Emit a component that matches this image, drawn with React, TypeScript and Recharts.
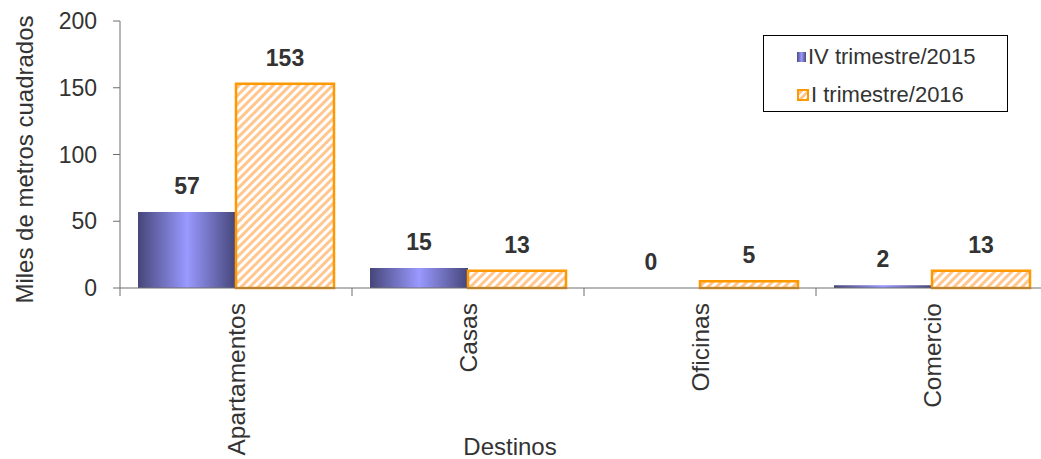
import { BarChart, Bar, XAxis, YAxis, Legend, LabelList } from 'recharts'

const categories = ['Apartamentos', 'Casas', 'Oficinas', 'Comercio']
const q4of2015 = [57, 15, 0, 2]
const q1of2016 = [153, 13, 5, 13]
const yTicks = [0, 50, 100, 150, 200]
const seriesNames = ['IV trimestre/2015', 'I trimestre/2016']

const CHART_W = 1041
const CHART_H = 459
const Y_AXIS_W = 120
const MARGIN = { top: 21, right: -7, bottom: 0, left: 0 }
const BAND = (CHART_W - Y_AXIS_W - MARGIN.left - MARGIN.right) / categories.length

const FONT = '"Liberation Sans", Arial, sans-serif'
const TEXT = '#333333'
const AXIS = '#6e6e6e'

const data = categories.map((name, i) => ({
  name,
  q4: q4of2015[i],
  q1: q1of2016[i],
}))

function CategoryTick(props: any) {
  const { x, y, payload, index } = props
  const last = index === categories.length - 1
  return (
    <g>
      <line x1={x - BAND / 2} x2={x - BAND / 2} y1={y} y2={y + 8} stroke={AXIS} />
      {last && <line x1={x + BAND / 2} x2={x + BAND / 2} y1={y} y2={y + 8} stroke={AXIS} />}
      <text
        x={x}
        y={y + 15}
        dy="0.35em"
        transform={`rotate(-90, ${x}, ${y + 15})`}
        textAnchor="end"
        fill={TEXT}
        fontSize={24.5}
        fontFamily={FONT}
      >
        {payload.value}
      </text>
    </g>
  )
}

function ValueLabel(props: any) {
  const { x, y, width, height, value } = props
  // zero-height bars still get their label on the baseline
  const top = Math.min(y, y + height)
  return (
    <text
      x={x + width / 2}
      y={top - 18}
      textAnchor="middle"
      fill={TEXT}
      fontSize={23}
      fontWeight="bold"
      fontFamily={FONT}
    >
      {value}
    </text>
  )
}

function LegendBox() {
  const row = { display: 'flex', alignItems: 'center', height: 38, paddingLeft: 33 }
  return (
    <div
      style={{
        border: '1px solid #000',
        background: '#fff',
        width: 243,
        height: 75,
        fontFamily: FONT,
        fontSize: 22,
        color: TEXT,
        boxSizing: 'content-box',
      }}
    >
      <div style={{ ...row, paddingTop: 2 }}>
        <span
          style={{
            display: 'inline-block',
            width: 9,
            height: 10,
            background: 'linear-gradient(90deg, #4b4b7e, #9999ff 50%, #4b4b7e)',
            marginRight: 2,
          }}
        />
        <span>{seriesNames[0]}</span>
      </div>
      <div style={row}>
        <span
          style={{
            display: 'inline-block',
            width: 8,
            height: 8,
            border: '2px solid #ff9900',
            background: 'repeating-linear-gradient(135deg, #ffc68f 0 3px, #fff 3px 5px)',
            marginRight: 2,
          }}
        />
        <span>{seriesNames[1]}</span>
      </div>
    </div>
  )
}

export default function App() {
  return (
    <div style={{ position: 'absolute', left: 0, top: 0, background: '#fff' }}>
      <BarChart
        width={CHART_W}
        height={CHART_H}
        data={data}
        margin={MARGIN}
        barCategoryGap={18}
        barGap={0}
      >
        <defs>
          <linearGradient id="purpleGrad" x1="0" y1="0" x2="1" y2="0">
            <stop offset="0%" stopColor="#46467a" />
            <stop offset="50%" stopColor="#9999ff" />
            <stop offset="100%" stopColor="#46467a" />
          </linearGradient>
          <pattern
            id="orangeHatch"
            patternUnits="userSpaceOnUse"
            width={6}
            height={6}
            patternTransform="rotate(45)"
          >
            <rect width={6} height={6} fill="#ffffff" />
            <rect width={3} height={6} fill="#ffc68f" />
          </pattern>
        </defs>
        <XAxis
          dataKey="name"
          height={171}
          interval={0}
          tickLine={false}
          tickSize={0}
          tickMargin={0}
          axisLine={{ stroke: AXIS }}
          tick={<CategoryTick />}
          label={{
            content: (p: any) => {
              const vb = p.viewBox
              return (
                <text
                  x={vb.x + vb.width / 2 - 74}
                  y={455}
                  textAnchor="middle"
                  fill={TEXT}
                  fontSize={24}
                  fontFamily={FONT}
                >
                  Destinos
                </text>
              )
            },
          }}
        />
        <YAxis
          width={Y_AXIS_W}
          domain={[0, 200]}
          ticks={yTicks}
          interval={0}
          tickSize={7}
          tickMargin={16}
          axisLine={{ stroke: AXIS }}
          tickLine={{ stroke: AXIS }}
          tick={{ fill: TEXT, fontSize: 23, fontFamily: FONT }}
          label={{
            content: (p: any) => {
              const vb = p.viewBox
              const cx = vb.x + 25
              const cy = vb.y + vb.height / 2 + 5
              return (
                <text
                  x={cx}
                  y={cy}
                  dy="0.35em"
                  transform={`rotate(-90, ${cx}, ${cy})`}
                  textAnchor="middle"
                  fill={TEXT}
                  fontSize={24}
                  fontFamily={FONT}
                >
                  Miles de metros cuadrados
                </text>
              )
            },
          }}
        />
        <Legend
          layout="horizontal"
          verticalAlign="middle"
          align="center"
          content={() => <LegendBox />}
          wrapperStyle={{ left: 763, top: 35, width: 245, height: 77 }}
        />
        <Bar
          dataKey="q4"
          name={seriesNames[0]}
          fill="url(#purpleGrad)"
          minPointSize={0.01}
          isAnimationActive={false}
        >
          <LabelList dataKey="q4" content={<ValueLabel />} />
        </Bar>
        <Bar
          dataKey="q1"
          name={seriesNames[1]}
          fill="url(#orangeHatch)"
          stroke="#ff9900"
          strokeWidth={2.5}
          isAnimationActive={false}
        >
          <LabelList dataKey="q1" content={<ValueLabel />} />
        </Bar>
      </BarChart>
    </div>
  )
}
